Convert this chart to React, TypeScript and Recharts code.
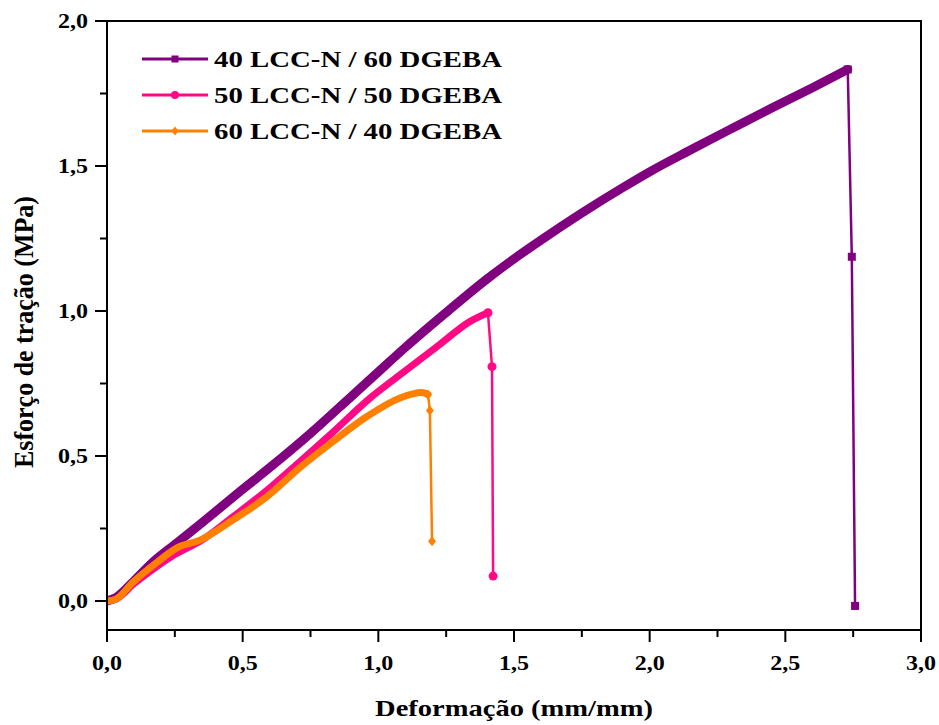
import { LineChart, Line, XAxis, YAxis, ReferenceArea, Legend, Label } from 'recharts';

// 40 LCC-N / 60 DGEBA
const strain40 = [0, 0.03, 0.1, 0.17, 0.25, 0.35, 0.5, 0.6, 0.75, 0.9, 1.0, 1.1, 1.25, 1.4, 1.5, 1.6, 1.75, 1.9, 2.0, 2.15, 2.3, 2.45, 2.6, 2.73];
const stress40 = [0, 0.01, 0.07, 0.135, 0.195, 0.27, 0.385, 0.46, 0.578, 0.705, 0.79, 0.875, 0.995, 1.11, 1.18, 1.245, 1.338, 1.425, 1.48, 1.555, 1.628, 1.7, 1.77, 1.833];
const failStrain40 = [2.73, 2.745, 2.757];
const failStress40 = [1.833, 1.187, -0.017];

// 50 LCC-N / 50 DGEBA
const strain50 = [0, 0.03, 0.1, 0.17, 0.25, 0.35, 0.45, 0.6, 0.71, 0.83, 0.97, 1.08, 1.22, 1.34, 1.404];
const stress50 = [0, 0.005, 0.06, 0.11, 0.16, 0.21, 0.28, 0.39, 0.48, 0.58, 0.70, 0.78, 0.88, 0.965, 0.994];
const failStrain50 = [1.404, 1.419, 1.423];
const failStress50 = [0.994, 0.808, 0.086];

// 60 LCC-N / 40 DGEBA
const strain60 = [0, 0.03, 0.096, 0.18, 0.258, 0.343, 0.465, 0.59, 0.711, 0.833, 0.958, 1.08, 1.16, 1.183];
const stress60 = [0, 0.005, 0.065, 0.13, 0.183, 0.21, 0.28, 0.36, 0.46, 0.55, 0.636, 0.70, 0.719, 0.712];
const failStrain60 = [1.183, 1.19, 1.198];
const failStress60 = [0.712, 0.657, 0.206];

const seriesNames = ['40 LCC-N / 60 DGEBA', '50 LCC-N / 50 DGEBA', '60 LCC-N / 40 DGEBA'];
const seriesColors = ['#800080', '#ff0a84', '#ff8000'];

const xTicks = [0, 0.25, 0.5, 0.75, 1, 1.25, 1.5, 1.75, 2, 2.25, 2.5, 2.75, 3];
const yTicks = [0, 0.25, 0.5, 0.75, 1, 1.25, 1.5, 1.75, 2];

const FONT = '"Liberation Serif", "Times New Roman", serif';
const STRETCH = 1.2;

const zip = (xs: number[], ys: number[]) => xs.map((x, i) => ({ x, y: ys[i] }));

const fmt = (v: number) => v.toFixed(1).replace('.', ',');
const isMajor = (v: number) => Math.abs(v * 2 - Math.round(v * 2)) < 1e-6;

const Marker = ({ cx, cy, shape, color, size = 8 }: any) => {
  if (cx == null || cy == null) return null;
  const h = size / 2;
  if (shape === 'square') return <rect x={cx - h} y={cy - h} width={size} height={size} fill={color} />;
  if (shape === 'circle') return <circle cx={cx} cy={cy} r={h + 0.5} fill={color} />;
  return <polygon points={`${cx},${cy - h - 1} ${cx + h},${cy} ${cx},${cy + h + 1} ${cx - h},${cy}`} fill={color} />;
};

const shapes = ['square', 'circle', 'diamond'];

// text stretched horizontally like the original figure
const SText = ({ x, y, anchor, size, stretch = STRETCH, children }: any) => (
  <text
    transform={`translate(${x}, ${y}) scale(${stretch}, 1)`}
    textAnchor={anchor}
    fontFamily={FONT}
    fontWeight="bold"
    fontSize={size}
    fill="#000"
  >
    {children}
  </text>
);

const XTick = ({ x, y, payload }: any) => {
  const major = isMajor(payload.value);
  return (
    <g>
      <line x1={x} x2={x} y1={y} y2={y + (major ? 12 : 7)} stroke="#000" strokeWidth={2} />
      {major && <SText x={x} y={y + 40} anchor="middle" size={20}>{fmt(payload.value)}</SText>}
    </g>
  );
};

const YTick = ({ x, y, payload }: any) => {
  const major = isMajor(payload.value);
  return (
    <g>
      <line x1={x} x2={x - (major ? 12 : 7)} y1={y} y2={y} stroke="#000" strokeWidth={2} />
      {major && <SText x={x - 19} y={y + 7} anchor="end" size={20}>{fmt(payload.value)}</SText>}
    </g>
  );
};

const LegendBox = () => (
  <div style={{ fontFamily: FONT, fontWeight: 'bold', fontSize: 24, color: '#000' }}>
    {seriesNames.map((name, i) => (
      <div key={name} style={{ display: 'flex', alignItems: 'center', height: 36 }}>
        <svg width={70} height={16} style={{ display: 'block' }}>
          <line x1={2} x2={68} y1={8} y2={8} stroke={seriesColors[i]} strokeWidth={3} />
          <Marker cx={35} cy={8} shape={shapes[i]} color={seriesColors[i]} size={7} />
        </svg>
        <span
          style={{
            marginLeft: 4,
            lineHeight: '36px',
            whiteSpace: 'nowrap',
            display: 'inline-block',
            transform: `scaleX(${STRETCH})`,
            transformOrigin: 'left center',
          }}
        >
          {name}
        </span>
      </div>
    ))}
  </div>
);

export default function App() {
  const curves = [zip(strain40, stress40), zip(strain50, stress50), zip(strain60, stress60)];
  const failures = [zip(failStrain40, failStress40), zip(failStrain50, failStress50), zip(failStrain60, failStress60)];
  const bandWidth = [9, 7, 7];

  return (
    <div style={{ position: 'absolute', left: 0, top: 0, width: 939, height: 725, background: '#fff' }}>
      <LineChart width={939} height={725} margin={{ top: 21, right: 18, bottom: 45, left: 47 }}>
        <XAxis
          dataKey="x"
          type="number"
          domain={[0, 3]}
          ticks={xTicks}
          allowDataOverflow
          height={50}
          tickSize={0}
          tickMargin={0}
          tickLine={false}
          axisLine={{ stroke: '#000', strokeWidth: 2 }}
          tick={<XTick />}
          interval={0}
        >
          <Label
            content={({ viewBox }: any) => (
              <SText x={viewBox.x + viewBox.width / 2} y={716} anchor="middle" size={23} stretch={1.24}>
                Deformação (mm/mm)
              </SText>
            )}
          />
        </XAxis>
        <YAxis
          dataKey="y"
          type="number"
          domain={[-0.1, 2]}
          ticks={yTicks}
          allowDataOverflow
          width={60}
          tickSize={0}
          tickMargin={0}
          tickLine={false}
          axisLine={{ stroke: '#000', strokeWidth: 2 }}
          tick={<YTick />}
          interval={0}
        >
          <Label
            content={() => (
              <text
                transform="translate(33, 332) scale(1.05, 1) rotate(-90)"
                textAnchor="middle"
                fontFamily={FONT}
                fontWeight="bold"
                fontSize={26}
                fill="#000"
              >
                Esforço de tração (MPa)
              </text>
            )}
          />
        </YAxis>
        <ReferenceArea x1={0} x2={3} y1={-0.1} y2={2} fill="none" stroke="#000" strokeWidth={2} />
        {curves.map((data, i) => (
          <Line
            key={`curve-${i}`}
            data={data}
            dataKey="y"
            type="monotone"
            stroke={seriesColors[i]}
            strokeWidth={bandWidth[i]}
            strokeLinejoin="round"
            strokeLinecap="round"
            dot={false}
            activeDot={false}
            isAnimationActive={false}
            legendType="none"
          />
        ))}
        {failures.map((data, i) => (
          <Line
            key={`fail-${i}`}
            data={data}
            dataKey="y"
            type="linear"
            stroke={seriesColors[i]}
            strokeWidth={2.5}
            dot={(p: any) => <Marker key={`m-${i}-${p.index}`} cx={p.cx} cy={p.cy} shape={shapes[i]} color={seriesColors[i]} size={8} />}
            activeDot={false}
            isAnimationActive={false}
            legendType="none"
          />
        ))}
        <Legend
          layout="vertical"
          align="center"
          verticalAlign="middle"
          content={<LegendBox />}
          wrapperStyle={{ position: 'absolute', left: 140, top: 41, width: 420, height: 108 }}
        />
      </LineChart>
    </div>
  );
}
